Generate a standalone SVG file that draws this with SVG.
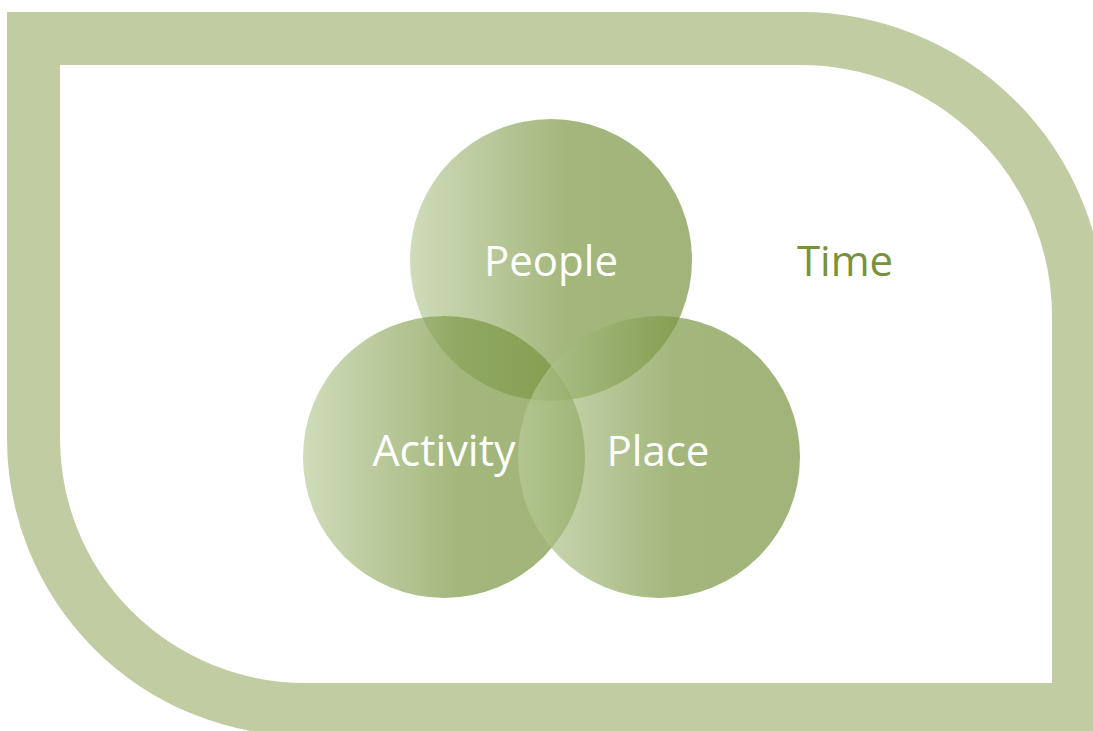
<svg xmlns="http://www.w3.org/2000/svg" width="1093" height="731" viewBox="0 0 1093 731">
<style>
.lbl{font-family:"Open Sans","Noto Sans","Liberation Sans",sans-serif;font-size:42px;fill:#ffffff;text-anchor:middle}
.time{font-family:"Open Sans","Noto Sans","Liberation Sans",sans-serif;font-size:42px;fill:#76923c;text-anchor:middle}
.circ{fill:url(#g);fill-opacity:0.69}
</style>
<defs>
<linearGradient id="g" x1="0" y1="0" x2="1" y2="0">
<stop offset="0" stop-color="#bacc9b"/>
<stop offset="0.55" stop-color="#7a9642"/>
<stop offset="1" stop-color="#76923c"/>
</linearGradient>
</defs>
<rect width="1093" height="731" fill="#ffffff"/>
<g id="frame">
<path d="M33.5 38.5 H800 A278 278 0 0 1 1078.5 316.5 V709.5 H305 A271.5 271 0 0 1 33.5 438.5 Z" fill="none" stroke="#c1cca3" stroke-width="53"/>
</g>
<g id="time"><text class="time" x="845" y="276">Time</text></g>
<g id="people"><circle class="circ" cx="551" cy="260" r="141"/></g>
<g id="activity"><circle class="circ" cx="444" cy="457" r="141"/></g>
<g id="place"><circle class="circ" cx="659" cy="457" r="141"/></g>
<g id="labels">
<text class="lbl" x="551" y="276">People</text>
<text class="lbl" x="444" y="466" style="font-size:43px">Activity</text>
<text class="lbl" x="658" y="466">Place</text>
</g>
<g id="connectors"/>
</svg>
